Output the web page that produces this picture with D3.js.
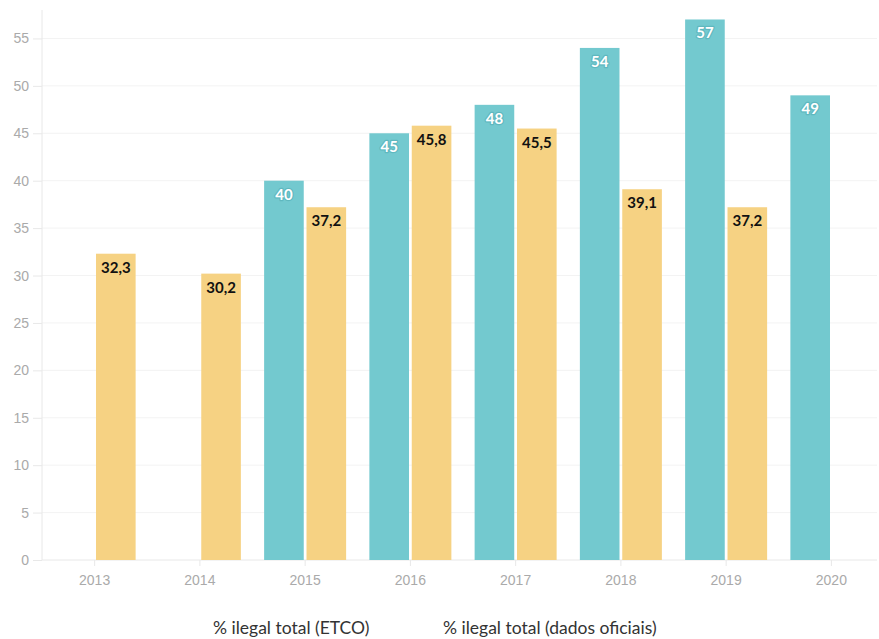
<!DOCTYPE html>
<html><head><meta charset="utf-8">
<script src="https://cdn.jsdelivr.net/npm/d3@7"></script>
<style>
html,body{margin:0;padding:0;background:#fff;}
svg{display:block;font-family:"Source Sans Pro",Lato,"Open Sans",sans-serif;}
</style></head>
<body><svg id="c" width="879" height="639"></svg>
<script>
const years = ["2013","2014","2015","2016","2017","2018","2019","2020"];
const seriesNames = ["% ilegal total (ETCO)", "% ilegal total (dados oficiais)"];
const etco = [null, null, 40, 45, 48, 54, 57, 49];
const oficiais = [32.3, 30.2, 37.2, 45.8, 45.5, 39.1, 37.2, null];
const yTicks = [0,5,10,15,20,25,30,35,40,45,50,55];
const colors = ["#73c9cf", "#f6d283"];

(function(){
const svg = d3.select("#c");
const mLeft = 42, mRight = 884, mTop = 10, mBottom = 560;
const x = d3.scaleBand().domain(years).range([mLeft, mRight]);
const inner = d3.scaleBand().domain([0,1]).range([-41, 41]).paddingInner(0.065);
const y = d3.scaleLinear().domain([0, 58]).range([mBottom, mTop]);

// grid
svg.append("g").selectAll("line").data(yTicks.filter(d=>d>0)).join("line")
  .attr("x1", mLeft).attr("x2", 877).attr("y1", d=>y(d)).attr("y2", d=>y(d))
  .attr("stroke", "#f3f3f3").attr("stroke-width", 1);

// y axis
const ya = svg.append("g").attr("transform", `translate(${mLeft},0)`)
  .call(d3.axisLeft(y).tickValues(yTicks).tickSize(9).tickPadding(4));
ya.select(".domain").attr("stroke", "#e8e8e8").attr("d", `M0,${mTop}V${mBottom}`);
ya.selectAll(".tick line").attr("stroke", "#e8e8e8");
ya.selectAll("text").attr("fill", "#aaa").style("font-size", "14px").style("font-family", "inherit");

// x axis
const xa = svg.append("g").attr("transform", `translate(0,${mBottom})`)
  .call(d3.axisBottom(x).tickSize(6).tickPadding(9));
xa.select(".domain").attr("stroke", "#e8e8e8").attr("d", `M${mLeft},0H877`);
xa.selectAll(".tick line").attr("stroke", "#e8e8e8");
xa.selectAll("text").attr("fill", "#aaa").style("font-size", "14px").style("font-family", "inherit");

const fmt = v => String(v).replace(".", ",");
const data = [etco, oficiais];
data.forEach((vals, s) => {
  const pts = years.map((yr,i)=>({yr, v: vals[i]})).filter(d=>d.v!=null);
  const cx = d => x(d.yr) + x.bandwidth()/2 + inner(s);
  svg.append("g").selectAll("rect").data(pts).join("rect")
    .attr("x", cx).attr("width", inner.bandwidth())
    .attr("y", d=>y(d.v)).attr("height", d=>mBottom - y(d.v))
    .attr("fill", colors[s]);
  const g = svg.append("g").selectAll("text").data(pts).join("text")
    .attr("x", d=>cx(d) + inner.bandwidth()/2).attr("y", d=>y(d.v)+19)
    .attr("text-anchor", "middle").style("font-size", "15px").style("font-weight", "700")
    .text(d=>fmt(d.v));
  if (s === 0) {
    g.attr("fill", "#fff").attr("stroke", "#5fb8bf").attr("stroke-width", 2.5)
     .attr("paint-order", "stroke").attr("stroke-linejoin", "round");
  } else {
    g.attr("fill", "#111");
  }
});

// legend
const leg = svg.append("g");
leg.append("text").attr("x", 213).attr("y", 634).text(seriesNames[0]);
leg.append("text").attr("x", 443).attr("y", 634).text(seriesNames[1]);
leg.selectAll("text").attr("fill", "#333").style("font-size", "17.5px");
})();
</script></body></html>
